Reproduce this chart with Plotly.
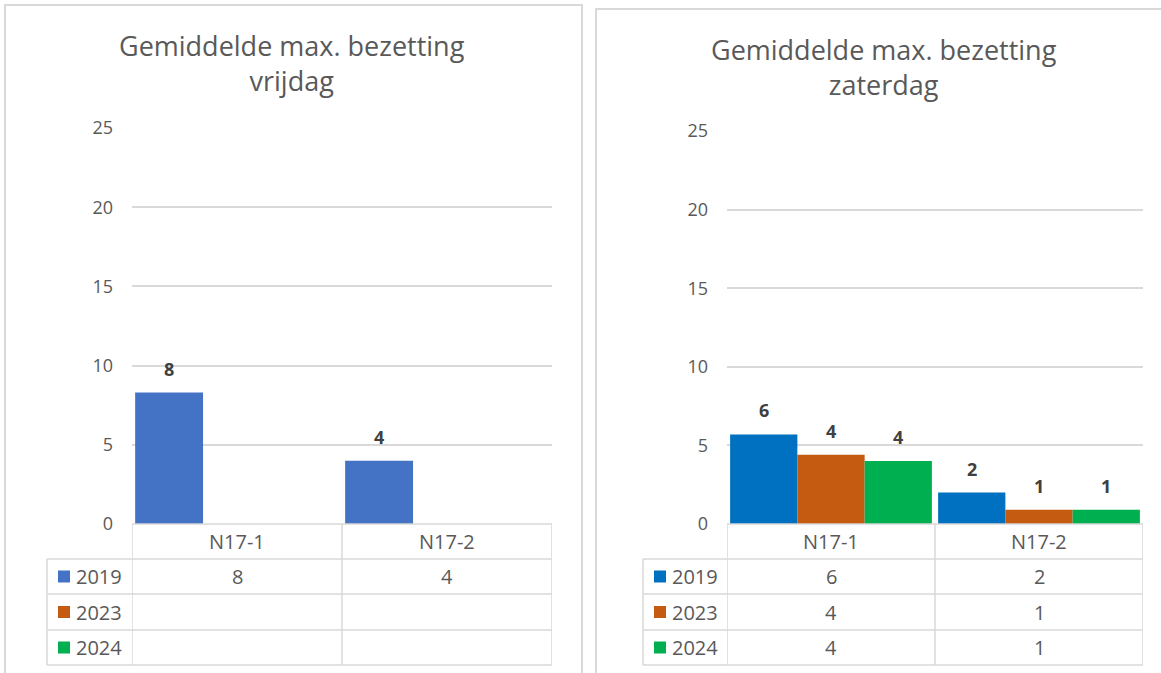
import plotly.graph_objects as go

W, H = 1161, 673

categories = ["N17-1", "N17-2"]
years = ["2019", "2023", "2024"]

# Gemiddelde max. bezetting vrijdag
vrijdag_2019 = [8.3, 4.0]
vrijdag_2023 = [None, None]
vrijdag_2024 = [None, None]

# Gemiddelde max. bezetting zaterdag
zaterdag_2019 = [5.7, 2.0]
zaterdag_2023 = [4.4, 0.9]
zaterdag_2024 = [4.0, 0.9]

yticks = [0, 5, 10, 15, 20, 25]

colors_left = ["#4472C4", "#C55A11", "#00B050"]
colors_right = ["#0070C0", "#C55A11", "#00B050"]

FONT = "Open Sans"
GRAY = "#595959"
LINE = "#D9D9D9"


def px(x):
    return x / W


def py(y):
    return 1 - y / H


panels = [
    dict(title="Gemiddelde max. bezetting<br>vrijdag", series=[vrijdag_2019, vrijdag_2023, vrijdag_2024],
         colors=colors_left, x0=132, x1=552, ytop=128, ybot=524, leg0=47, frame=(5, 582, 5), tcx=292),
    dict(title="Gemiddelde max. bezetting<br>zaterdag", series=[zaterdag_2019, zaterdag_2023, zaterdag_2024],
         colors=colors_right, x0=727, x1=1143, ytop=131, ybot=524, leg0=643, frame=(596, 1175, 9), tcx=884),
]

fig = go.Figure()
shapes = []
annotations = []
bargap = 0.03
ncat = len(categories)
xs = list(range(ncat))
rows_y = [559, 594, 630, 665]

for p_i, p in enumerate(panels):
    xa = "x" if p_i == 0 else "x2"
    ya = "y" if p_i == 0 else "y2"
    nser = len(p["series"])
    bw = (1 - bargap) / nser
    for k, (yr, vals) in enumerate(zip(years, p["series"])):
        fig.add_trace(go.Bar(
            x=xs, y=vals, name=yr, marker=dict(color=p["colors"][k], line=dict(width=0)),
            xaxis=xa, yaxis=ya, showlegend=False, hoverinfo="skip",
            offsetgroup=str(k), alignmentgroup=f"g{p_i}",
        ))
        # data labels
        for i, v in enumerate(vals):
            if v is None:
                continue
            annotations.append(dict(
                x=xs[i] + (k - (nser - 1) / 2) * bw, y=v, xref=xa, yref=ya,
                text=f"<b>{round(v)}</b>", showarrow=False, yanchor="bottom", yshift=10,
                font=dict(family=FONT, size=18, color="#404040"),
            ))
    # title
    annotations.append(dict(
        x=px(p["tcx"]), y=py(p["frame"][2] + 20), xref="paper", yref="paper", text=p["title"],
        showarrow=False, xanchor="center", yanchor="top",
        font=dict(family=FONT, size=27, color=GRAY),
    ))
    # frame
    fx0, fx1, fy0 = p["frame"]
    shapes.append(dict(type="rect", xref="paper", yref="paper", x0=px(fx0), x1=px(fx1),
                       y0=py(H + 20), y1=py(fy0), line=dict(color=LINE, width=2), layer="below"))
    # data table
    shapes.append(dict(type="line", xref=xa, yref="paper", x0=-0.5, x1=ncat - 0.5,
                       y0=py(p["ybot"]), y1=py(p["ybot"]), line=dict(color=LINE, width=1.5)))
    for r in rows_y:
        shapes.append(dict(type="line", xref="paper", yref="paper", x0=px(p["leg0"]), x1=px(p["x1"]),
                           y0=py(r), y1=py(r), line=dict(color=LINE, width=1.5)))
    for c in range(ncat + 1):
        shapes.append(dict(type="line", xref=xa, yref="paper", x0=c - 0.5, x1=c - 0.5,
                           y0=py(p["ybot"]), y1=py(rows_y[-1]), line=dict(color=LINE, width=1.5)))
    shapes.append(dict(type="line", xref="paper", yref="paper", x0=px(p["leg0"]), x1=px(p["leg0"]),
                       y0=py(rows_y[0]), y1=py(rows_y[-1]), line=dict(color=LINE, width=1.5)))
    # category header labels
    for i, c in enumerate(categories):
        annotations.append(dict(x=xs[i], y=py((p["ybot"] + rows_y[0]) / 2), xref=xa, yref="paper",
                                text=c, showarrow=False, yanchor="middle",
                                font=dict(family=FONT, size=20, color=GRAY)))
    # series rows
    for k, (yr, vals) in enumerate(zip(years, p["series"])):
        yc = (rows_y[k] + rows_y[k + 1]) / 2
        sq = 6
        shapes.append(dict(type="rect", xref="paper", yref="paper",
                           x0=px(p["leg0"] + 11), x1=px(p["leg0"] + 11 + 2 * sq),
                           y0=py(yc + sq), y1=py(yc - sq),
                           fillcolor=p["colors"][k], line=dict(width=0)))
        annotations.append(dict(x=px(p["leg0"] + 27), y=py(yc), xref="paper", yref="paper",
                                text=yr, showarrow=False, xanchor="left", yanchor="middle",
                                font=dict(family=FONT, size=20, color=GRAY)))
        for i, v in enumerate(vals):
            if v is None:
                continue
            annotations.append(dict(x=xs[i], y=py(yc), xref=xa, yref="paper",
                                    text=str(round(v)), showarrow=False, yanchor="middle",
                                    font=dict(family=FONT, size=20, color=GRAY)))

    axis_x = dict(domain=[px(p["x0"]), px(p["x1"])], range=[-0.5, ncat - 0.5], automargin=False,
                  showticklabels=False, showgrid=False, zeroline=False, showline=False, ticks="",
                  fixedrange=True)
    axis_y = dict(domain=[py(p["ybot"]), py(p["ytop"])], range=[0, 25], tickvals=yticks, automargin=False,
                  showgrid=True, gridcolor=LINE, gridwidth=1.5, zeroline=False, showline=False,
                  ticks="", ticklabelstandoff=18,
                  tickfont=dict(family=FONT, size=18, color=GRAY), fixedrange=True)
    if p_i == 0:
        fig.update_layout(xaxis=axis_x, yaxis=axis_y)
    else:
        axis_x["anchor"] = "y2"
        axis_y["anchor"] = "x2"
        fig.update_layout(xaxis2=axis_x, yaxis2=axis_y)

fig.update_layout(
    template="none",
    width=W, height=H, margin=dict(l=0, r=0, t=0, b=0, pad=0, autoexpand=False),
    paper_bgcolor="white", plot_bgcolor="white",
    barmode="group", bargap=bargap, bargroupgap=0,
    shapes=shapes, annotations=annotations, showlegend=False,
    font=dict(family=FONT, color=GRAY),
)

fig.write_html("out.html", config={"displayModeBar": False},
               post_script="document.body.style.margin='0';document.body.style.overflow='hidden';")
